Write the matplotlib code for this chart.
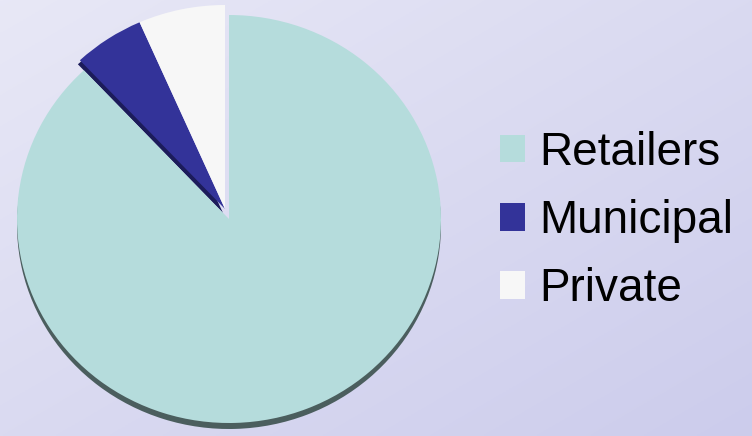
import numpy as np
import matplotlib.pyplot as plt

plt.rcParams["font.family"] = ["Liberation Sans", "DejaVu Sans"]

labels = ["Retailers", "Municipal", "Private"]
shares = [88.0, 5.4, 6.6]
colors = ["#b5dcdc", "#333399", "#f7f7f7"]
side_colors = ["#4b5e5e", "#1c1c5a", "#1c1c5a"]

fig = plt.figure(figsize=(7.52, 4.36), dpi=100)

# lavender gradient background
bg = fig.add_axes([0, 0, 1, 1], zorder=-5)
yy, xx = np.mgrid[0:1:200j, 0:1:300j]
t = (xx + yy) / 2
c0 = np.array([0.91, 0.91, 0.965])
c1 = np.array([0.80, 0.80, 0.925])
grad = c0[None, None, :] * (1 - t[..., None]) + c1[None, None, :] * t[..., None]
bg.imshow(grad, aspect="auto", extent=(0, 1, 0, 1))
bg.axis("off")

# pie axes sized so the pie is slightly flattened (3d look)
ax = fig.add_axes([0, 0, 460 / 752, 1])
cx, cy = 229, 217  # pixel centre (from bottom)
rx, ry = 212, 204
shift = (-4 / rx, 10 / ry)  # the two small slices are pulled out together

# thickness / side of the pie
side, _ = ax.pie(shares, colors=side_colors, startangle=90,
                 counterclock=False, center=(0, -6 / ry), radius=1.0,
                 wedgeprops=dict(linewidth=0), frame=True)
wedges, _ = ax.pie(shares, colors=colors, startangle=90,
                   counterclock=False, center=(0, 0), radius=1.0,
                   wedgeprops=dict(linewidth=0), frame=True)
for w in side[1:]:
    w.set_center((shift[0] - 2 / rx, shift[1] - 4 / ry))
for w in wedges[1:]:
    w.set_center(shift)
side[2].set_visible(False)

ax.set_aspect("auto")
ax.set_xlim(-cx / rx, (460 - cx) / rx)
ax.set_ylim(-cy / ry, (436 - cy) / ry)
ax.axis("off")

fig.legend(wedges, labels, loc="center left",
           bbox_to_anchor=(500 / 752, 0.493), frameon=False,
           fontsize=33, handlelength=0.55, handleheight=0.55,
           handletextpad=0.3, labelspacing=0.53, borderpad=0,
           borderaxespad=0)

fig.savefig("out.png", dpi=100)
